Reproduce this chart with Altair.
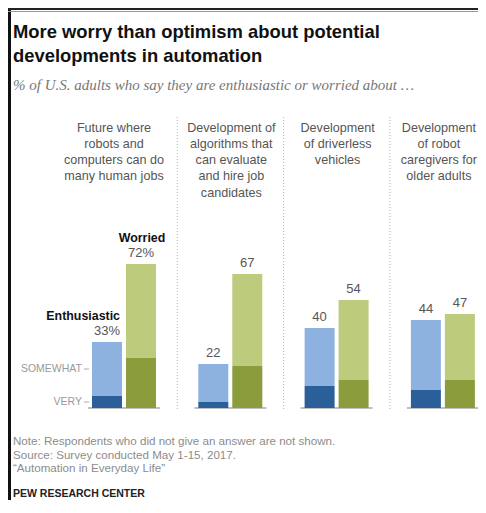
import altair as alt
import pandas as pd

# ---------------- data ----------------
cat_keys = ["jobs", "algorithms", "vehicles", "caregivers"]
header_lines = [
    "Future where\nrobots and\ncomputers can do\nmany human jobs",
    "Development of\nalgorithms that\ncan evaluate\nand hire job\ncandidates",
    "Development\nof driverless\nvehicles",
    "Development\nof robot\ncaregivers for\nolder adults",
]
enth_total = [33, 22, 40, 44]
enth_very = [6, 3, 11, 9]
worr_total = [72, 67, 54, 47]
worr_very = [25, 21, 14, 14]
groups = ["Enthusiastic", "Worried"]
level_names = ["VERY", "SOMEWHAT"]
color_keys = ["Enthusiastic-VERY", "Enthusiastic-SOMEWHAT", "Worried-VERY", "Worried-SOMEWHAT"]
color_vals = ["#2a5f9a", "#8db2e0", "#8a9c3c", "#bccb7c"]

title_text = "More worry than optimism about potential\ndevelopments in automation"
subtitle_text = "% of U.S. adults who say they are enthusiastic or worried about \u2026"
footer_text = ("Note: Respondents who did not give an answer are not shown.\n"
               "Source: Survey conducted May 1-15, 2017.\n"
               "\u201cAutomation in Everyday Life\u201d")
brand_text = "PEW RESEARCH CENTER"

# ---------------- tables ----------------
seg_rows = []
lab_rows = []
for i, c in enumerate(cat_keys):
    for g, tot, very in (("Enthusiastic", enth_total[i], enth_very[i]),
                         ("Worried", worr_total[i], worr_very[i])):
        seg_rows.append(dict(cat=c, group=g, y0=0, y1=very, key=f"{g}-VERY"))
        seg_rows.append(dict(cat=c, group=g, y0=very, y1=tot, key=f"{g}-SOMEWHAT"))
        lab_rows.append(dict(cat=c, group=g, total=tot,
                             label=f"{tot}%" if i == 0 else f"{tot}"))
seg = pd.DataFrame(seg_rows)
labs = pd.DataFrame(lab_rows)
heads = pd.DataFrame(dict(cat=cat_keys, head=header_lines))
base = pd.DataFrame(dict(cat=cat_keys, zero=[0] * len(cat_keys)))
seps = pd.DataFrame(dict(cat=cat_keys[1:]))
levels = pd.DataFrame(dict(cat=[cat_keys[0]] * 2, lvl=level_names,
                           mid=[enth_very[0] / 2, (enth_very[0] + enth_total[0]) / 2]))
grp_e = labs[(labs.cat == cat_keys[0]) & (labs.group == "Enthusiastic")]
grp_w = labs[(labs.cat == cat_keys[0]) & (labs.group == "Worried")]

# ---------------- scales ----------------
xscale = alt.Scale(domain=cat_keys, range=[78.7, 472.2], paddingInner=0.398, paddingOuter=0.05)
oscale = alt.Scale(domain=groups, paddingInner=0.1176, paddingOuter=0)
yscale = alt.Scale(domain=[0, 100], range=[400, 200])

X = lambda bp=0.5: alt.X("cat:N", scale=xscale, axis=None, bandPosition=bp)
XO = alt.XOffset("group:N", scale=oscale)

SANS = "Liberation Sans, Arial, sans-serif"

bars = alt.Chart(seg).mark_bar().encode(
    x=X(), xOffset=XO,
    y=alt.Y("y0:Q", scale=yscale, axis=None), y2="y1:Q",
    color=alt.Color("key:N", scale=alt.Scale(domain=color_keys, range=color_vals), legend=None),
)

values = alt.Chart(labs).mark_text(baseline="bottom", dy=-4, fontSize=13, font=SANS,
                                   color="#555555").encode(
    x=X(), xOffset=XO, y=alt.Y("total:Q", scale=yscale, axis=None), text="label:N")

g_enth = alt.Chart(grp_e).mark_text(baseline="bottom", dy=-19, dx=13, align="right",
                                    fontSize=12.4, fontWeight="bold", font=SANS,
                                    color="#111111").encode(
    x=X(), xOffset=XO, y=alt.Y("total:Q", scale=yscale, axis=None), text="group:N")
g_worr = alt.Chart(grp_w).mark_text(baseline="bottom", dy=-19, dx=1, align="center",
                                    fontSize=12.4, fontWeight="bold", font=SANS,
                                    color="#111111").encode(
    x=X(), xOffset=XO, y=alt.Y("total:Q", scale=yscale, axis=None), text="group:N")

baseline = alt.Chart(base).mark_rule(color="#aaaaaa", strokeWidth=1.5, xOffset=-4, x2Offset=4).encode(
    x=X(0), x2=alt.X2("cat:N", bandPosition=1),
    y=alt.Y("zero:Q", scale=yscale, axis=None))

separators = alt.Chart(seps).mark_rule(color="#b0b0b0", strokeDash=[1, 2], strokeWidth=1,
                                       xOffset=-21).encode(
    x=X(0), y=alt.value(109), y2=alt.value(402))

HEAD = dict(align="center", baseline="alphabetic", fontSize=12.6, lineHeight=16.3, lineBreak="\n",
            font=SANS, color="#555555")
head_first = alt.Chart(heads[heads.cat == cat_keys[0]]).mark_text(dx=-10, **HEAD).encode(
    x=X(), y=alt.value(123.5), text="head:N")
head_mid = alt.Chart(heads[heads.cat.isin(cat_keys[1:3])]).mark_text(dx=1, **HEAD).encode(
    x=X(), y=alt.value(123.5), text="head:N")
head_last = alt.Chart(heads[heads.cat == cat_keys[3]]).mark_text(dx=-4, **HEAD).encode(
    x=X(), y=alt.value(123.5), text="head:N")

lvl_text = alt.Chart(levels).mark_text(align="right", baseline="middle", dx=-10,
                                       fontSize=10.5, font=SANS, color="#999999").encode(
    x=X(0), y=alt.Y("mid:Q", scale=yscale, axis=None), text="lvl:N")
lvl_tick = alt.Chart(levels).mark_rule(color="#aaaaaa", strokeWidth=1, xOffset=-8, x2Offset=-3).encode(
    x=X(0), x2=alt.X2("cat:N", bandPosition=0), y=alt.Y("mid:Q", scale=yscale, axis=None))

txt = pd.DataFrame(dict(title=[title_text], sub=[subtitle_text], foot=[footer_text], brand=[brand_text]))
title = alt.Chart(txt).mark_text(align="left", baseline="alphabetic", fontSize=18.4, fontWeight="bold",
                                 lineHeight=24, lineBreak="\n", font=SANS, color="#111111").encode(
    x=alt.value(5), y=alt.value(30), text="title:N")
subtitle = alt.Chart(txt).mark_text(align="left", baseline="alphabetic", fontSize=15, fontStyle="italic",
                                    font="Liberation Serif, Georgia, serif", color="#777777").encode(
    x=alt.value(5), y=alt.value(82), text="sub:N")
footer = alt.Chart(txt).mark_text(align="left", baseline="alphabetic", fontSize=11.6, lineHeight=13.5,
                                  lineBreak="\n", font=SANS, color="#8c8c8c").encode(
    x=alt.value(5), y=alt.value(437), text="foot:N")
brand = alt.Chart(txt).mark_text(align="left", baseline="alphabetic", fontSize=10.5, fontWeight="bold",
                                 font=SANS, color="#222222").encode(
    x=alt.value(5), y=alt.value(489), text="brand:N")

frame = pd.DataFrame(dict(k=[0]))
left_bar = alt.Chart(frame).mark_rule(color="#111111", strokeWidth=3).encode(
    x=alt.value(1.5), y=alt.value(0), y2=alt.value(492))
top_bar = alt.Chart(frame).mark_rule(color="#222222", strokeWidth=2).encode(
    x=alt.value(0), x2=alt.value(470), y=alt.value(1))
top_bar2 = alt.Chart(frame).mark_rule(color="#999999", strokeWidth=1).encode(
    x=alt.value(0), x2=alt.value(470), y=alt.value(3.5))

chart = alt.layer(
    separators, baseline, bars, values, g_enth, g_worr, head_first, head_mid, head_last,
    lvl_text, lvl_tick, title, subtitle, footer, brand, left_bar, top_bar, top_bar2,
).properties(
    width=470, height=492, padding=0,
    autosize=alt.AutoSizeParams(type="none"),
).configure_view(stroke=None)

chart.save("out.html", embed_options={"renderer": "svg", "actions": False})
